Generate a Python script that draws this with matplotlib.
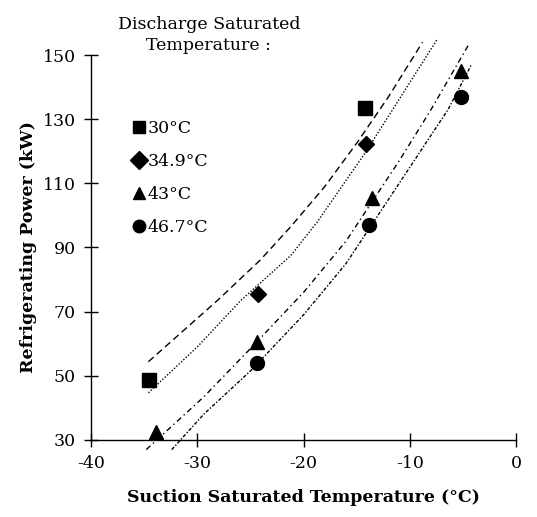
"""
Refrigerating power vs suction saturated temperature
for four discharge saturated temperatures
"""

import matplotlib
matplotlib.use('Agg')
import matplotlib.pyplot as plt

plt.rcParams.update({
    'font.family': 'DejaVu Serif',
    'font.size': 12.5,
    'axes.linewidth': 1.0,
    'axes.unicode_minus': False,
})

# measured points
pts_30_x = [-34.5, -14.2]
pts_30_y = [48.7, 133.5]
pts_349_x = [-24.3, -14.1]
pts_349_y = [75.6, 122.3]
pts_43_x = [-33.9, -24.4, -13.6, -5.2]
pts_43_y = [32.5, 60.5, 105.5, 145.0]
pts_467_x = [-24.4, -13.8, -5.2]
pts_467_y = [54.0, 97.0, 137.0]

# fitted curves
fit_30_x = [-34.6, -28.1, -24.1, -21.2, -18.0, -15.0, -12.0, -8.8]
fit_30_y = [54.4, 73.5, 86.0, 96.5, 109.0, 122.5, 137.0, 154.0]
fit_349_x = [-34.6, -30.0, -25.9, -21.2, -18.7, -14.2, -11.8, -7.4]
fit_349_y = [44.7, 59.0, 73.5, 87.5, 98.0, 119.5, 132.0, 155.0]
fit_43_x = [-34.8, -29.4, -24.7, -20.0, -16.0, -13.6, -11.0, -8.0, -4.5]
fit_43_y = [27.0, 43.4, 59.5, 76.0, 92.0, 104.0, 117.0, 133.0, 153.0]
fit_467_x = [-32.4, -29.4, -25.0, -20.0, -16.0, -13.8, -10.0, -6.4, -4.2]
fit_467_y = [27.0, 38.0, 51.5, 69.0, 85.0, 96.0, 115.0, 133.0, 147.0]

labels = ['30°C', '34.9°C', '43°C', '46.7°C']

fig = plt.figure(figsize=(5.37, 5.17), dpi=100)
ax = fig.add_axes([0.1695, 0.149, 0.7915, 0.7446])

ax.plot(fit_30_x, fit_30_y, color='black', lw=1.0, dashes=(5, 3), clip_on=False)
ax.plot(fit_349_x, fit_349_y, color='black', lw=1.0, dashes=(1, 1.3), clip_on=False)
ax.plot(fit_43_x, fit_43_y, color='black', lw=1.0, dashes=(4, 2.5, 1, 2.5), clip_on=False)
ax.plot(fit_467_x, fit_467_y, color='black', lw=1.0, dashes=(2.5, 1.3, 1, 1.3), clip_on=False)

ax.plot(pts_30_x, pts_30_y, 's', color='black', ms=10.5, ls='none', label=labels[0], clip_on=False)
ax.plot(pts_349_x, pts_349_y, 'D', color='black', ms=8, ls='none', label=labels[1], clip_on=False)
ax.plot(pts_43_x, pts_43_y, '^', color='black', ms=10.5, ls='none', label=labels[2], clip_on=False)
ax.plot(pts_467_x, pts_467_y, 'o', color='black', ms=10, ls='none', label=labels[3], clip_on=False)

ax.set_xlim(-40, 0)
ax.set_ylim(30, 150)
ax.set_xticks([-40, -30, -20, -10, 0])
ax.set_yticks([30, 50, 70, 90, 110, 130, 150])
ax.tick_params(direction='inout', length=10, width=1.0, pad=6, labelsize=12.5)

ax.spines['top'].set_visible(False)
ax.spines['right'].set_visible(False)

ax.set_xlabel('Suction Saturated Temperature (°C)', fontweight='bold', labelpad=12)
ax.set_ylabel('Refrigerating Power (kW)', fontweight='bold', labelpad=4)

leg = ax.legend(loc='upper left', bbox_to_anchor=(0.085, 0.85), frameon=False,
                handlelength=0.6, handletextpad=0.2, labelspacing=0.92,
                borderaxespad=0, fontsize=12.5)
for h in leg.legend_handles:
    h.set_markersize(9)

fig.text(0.389, 0.932, 'Discharge Saturated\nTemperature :', ha='center', va='center',
         fontsize=12.5, linespacing=1.35)

fig.savefig('out.png', dpi=100, facecolor='white')
